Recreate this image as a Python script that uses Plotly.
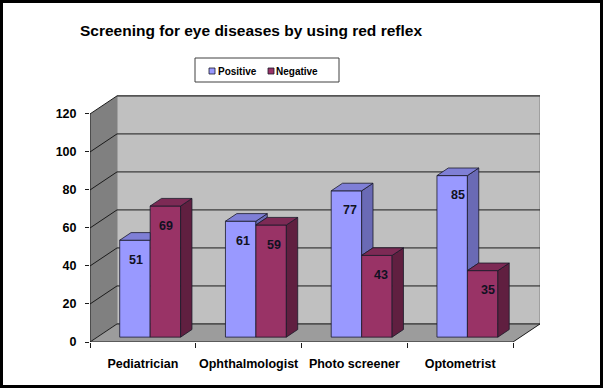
import plotly.graph_objects as go

# ---- data ----
categories = ["Pediatrician", "Ophthalmologist", "Photo screener", "Optometrist"]
positive = [51, 61, 77, 85]
negative = [69, 59, 43, 35]
series_names = ["Positive", "Negative"]
y_ticks = [0, 20, 40, 60, 80, 100, 120]
title_text = "Screening for eye diseases by using red reflex"

# ---- geometry / style ----
W_FIG, H_FIG = 603, 388
X0_PX, X1_PX, Y0_PX, Y1_PX = 90, 540, 342, 94
PX_PER_CAT = 105.75
X_MIN = -0.5
X_MAX = X_MIN + (X1_PX - X0_PX) / PX_PER_CAT
Y_MAX = 130.5
DX, DY = 0.2553, 9.5          # depth vector (data units)
F0, FD = 0.27, 0.42           # bar depth start / thickness (fraction of depth)
BW = 0.288                    # bar width (category units)
bx, by = F0 * DX, F0 * DY
ddx, ddy = FD * DX, FD * DY

POS_FRONT, POS_TOP, POS_SIDE = "#9999FF", "#7F7FD6", "#6A6AB5"
NEG_FRONT, NEG_TOP, NEG_SIDE = "#993366", "#7D2A55", "#601F40"
EDGE = "#1a1a2a"
FONT = "Liberation Sans"

def px(x):
    return x / W_FIG

def py(y):
    return 1 - y / H_FIG

fig = go.Figure()

# front faces as bars
xs_pos = [i + bx - BW / 2 for i in range(len(categories))]
xs_neg = [i + bx + BW / 2 for i in range(len(categories))]
fig.add_trace(go.Bar(x=xs_pos, y=positive, base=by, width=BW, name=series_names[0],
                     marker=dict(color=POS_FRONT, line=dict(color=EDGE, width=0.8)),
                     showlegend=False))
fig.add_trace(go.Bar(x=xs_neg, y=negative, base=by, width=BW, name=series_names[1],
                     marker=dict(color=NEG_FRONT, line=dict(color=EDGE, width=0.8)),
                     showlegend=False))

# 3D side / top faces computed from the values
def poly_trace(xx, yy, color):
    return go.Scatter(x=xx, y=yy, mode="lines", fill="toself", fillcolor=color,
                      line=dict(color=EDGE, width=0.8), hoverinfo="skip", showlegend=False)

ptx, pty, psx, psy, ntx, nty, nsx, nsy = [], [], [], [], [], [], [], []
for i, (vp, vn) in enumerate(zip(positive, negative)):
    # positive (left) bar
    x0, x1 = i + bx - BW, i + bx
    t = by + vp
    if vp >= vn:
        ptx += [x0, x1, x1 + ddx, x0 + ddx, x0, None]
        pty += [t, t, t + ddy, t + ddy, t, None]
        lo = by + vn
        psx += [x1, x1 + ddx, x1 + ddx, x1, x1, None]
        psy += [lo, lo + ddy, t + ddy, t, lo, None]
    else:
        ptx += [x0, x1, x1, x0 + ddx, x0, None]
        pty += [t, t, t + ddy, t + ddy, t, None]
    # negative (right) bar
    x0, x1 = i + bx, i + bx + BW
    t = by + vn
    ntx += [x0, x1, x1 + ddx, x0 + ddx, x0, None]
    nty += [t, t, t + ddy, t + ddy, t, None]
    nsx += [x1, x1 + ddx, x1 + ddx, x1, x1, None]
    nsy += [by, by + ddy, t + ddy, t, by, None]

fig.add_trace(poly_trace(psx, psy, POS_SIDE))
fig.add_trace(poly_trace(ptx, pty, POS_TOP))
fig.add_trace(poly_trace(nsx, nsy, NEG_SIDE))
fig.add_trace(poly_trace(ntx, nty, NEG_TOP))

shapes = []
n = len(categories)
xl, xr = -0.5, n - 0.5
# back wall
shapes.append(dict(type="rect", xref="x", yref="y", x0=xl + DX, x1=xr + DX, y0=DY, y1=y_ticks[-1] + DY,
                   fillcolor="#C0C0C0", line=dict(color="#808080", width=1), layer="below"))
# left wall
shapes.append(dict(type="path", xref="x", yref="y",
                   path=f"M{xl},0 L{xl},{y_ticks[-1]} L{xl+DX},{y_ticks[-1]+DY} L{xl+DX},{DY} Z",
                   fillcolor="#808080", line=dict(width=0), layer="below"))
# floor
shapes.append(dict(type="path", xref="x", yref="y",
                   path=f"M{xl},0 L{xr},0 L{xr+DX},{DY} L{xl+DX},{DY} Z",
                   fillcolor="#9C9C9C", line=dict(width=0), layer="below"))
# gridlines (back wall + left wall diagonals)
for v in y_ticks:
    shapes.append(dict(type="line", xref="x", yref="y", x0=xl + DX, x1=xr + DX, y0=v + DY, y1=v + DY,
                       line=dict(color="#1a1a1a", width=1), layer="below"))
    shapes.append(dict(type="line", xref="x", yref="y", x0=xl, x1=xl + DX, y0=v, y1=v + DY,
                       line=dict(color="#1a1a1a", width=1), layer="below"))
# front axis lines and floor edge
shapes.append(dict(type="line", xref="x", yref="y", x0=xl, x1=xl, y0=0, y1=y_ticks[-1],
                   line=dict(color="#1a1a1a", width=1), layer="below"))
shapes.append(dict(type="line", xref="x", yref="y", x0=xl, x1=xr, y0=0, y1=0,
                   line=dict(color="#1a1a1a", width=1), layer="below"))
shapes.append(dict(type="line", xref="x", yref="y", x0=xr, x1=xr + DX, y0=0, y1=DY,
                   line=dict(color="#1a1a1a", width=1), layer="below"))

# legend box (manual)
shapes.append(dict(type="rect", xref="paper", yref="paper", x0=px(195), x1=px(339), y0=py(82), y1=py(58),
                   fillcolor="white", line=dict(color="#404040", width=1)))
shapes.append(dict(type="rect", xref="paper", yref="paper", x0=px(209), x1=px(215), y0=py(74), y1=py(68),
                   fillcolor=POS_FRONT, line=dict(color=EDGE, width=0.8)))
shapes.append(dict(type="rect", xref="paper", yref="paper", x0=px(268), x1=px(274), y0=py(74), y1=py(68),
                   fillcolor=NEG_FRONT, line=dict(color=EDGE, width=0.8)))
# outer frame
shapes.append(dict(type="rect", xref="paper", yref="paper", x0=px(1.5), x1=px(601.5), y0=py(386.5), y1=py(1.5),
                   line=dict(color="black", width=3)))

annotations = [
    dict(text=title_text, xref="paper", yref="paper", x=px(251), y=py(31), showarrow=False,
         xanchor="center", yanchor="middle", font=dict(family=FONT, size=15.5, color="black", weight="bold")),
    dict(text=series_names[0], xref="paper", yref="paper", x=px(216.5), y=py(71), showarrow=False,
         xanchor="left", yanchor="middle", font=dict(family=FONT, size=10, color="black", weight="bold")),
    dict(text=series_names[1], xref="paper", yref="paper", x=px(274), y=py(71), showarrow=False,
         xanchor="left", yanchor="middle", font=dict(family=FONT, size=10, color="black", weight="bold")),
]
for i in range(n):
    for xc, v in ((xs_pos[i], positive[i]), (xs_neg[i], negative[i])):
        annotations.append(dict(text=str(v), xref="x", yref="y", x=xc, y=by + v, yshift=-19.5,
                                xshift=1 + 1.5 * i, showarrow=False, xanchor="center", yanchor="middle",
                                font=dict(family=FONT, size=12.5, color="#111122", weight="bold")))

fig.update_layout(
    width=W_FIG, height=H_FIG,
    margin=dict(l=0, r=0, t=0, b=0),
    paper_bgcolor="white", plot_bgcolor="rgba(0,0,0,0)",
    barmode="overlay", showlegend=False,
    shapes=shapes, annotations=annotations,
    xaxis=dict(domain=[px(X0_PX), px(X1_PX)], range=[X_MIN, X_MAX], tickmode="array",
               tickvals=list(range(n)), ticktext=categories, ticks="", showgrid=False,
               zeroline=False, showline=False, automargin=False, ticklabelstandoff=12,
               tickfont=dict(family=FONT, size=12.5, color="black", weight="bold"),
               minor=dict(tickmode="array", tickvals=[k - 0.5 for k in range(n + 1)], ticks="outside",
                          ticklen=5, tickcolor="#1a1a1a", showgrid=False)),
    yaxis=dict(domain=[1 - Y0_PX / H_FIG, 1 - Y1_PX / H_FIG], range=[0, Y_MAX], tickmode="array",
               tickvals=y_ticks, ticks="outside", ticklen=4, tickcolor="#1a1a1a", showgrid=False,
               zeroline=False, showline=False, automargin=False, ticklabelstandoff=6,
               tickfont=dict(family=FONT, size=12.5, color="black", weight="bold")),
)

fig.write_html("out.html", config={"displayModeBar": False},
               post_script="document.body.style.margin='0';document.body.style.overflow='hidden';")
